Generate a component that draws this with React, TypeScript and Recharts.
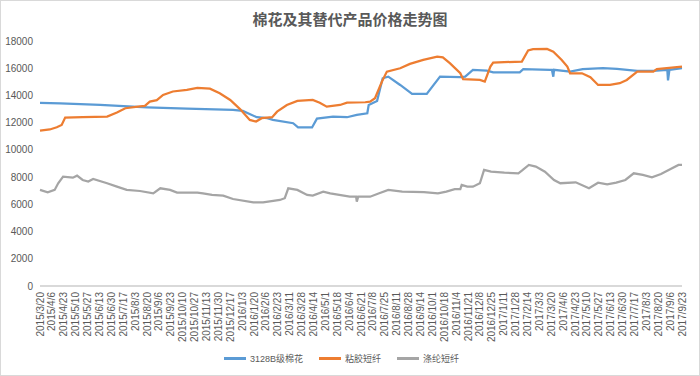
import { LineChart, Line, XAxis, YAxis, Legend } from 'recharts';

const title = '棉花及其替代产品价格走势图';

// x-axis labels, one every 17 days starting 2015/3/20
const dateLabels = [
  '2015/3/20', '2015/4/6', '2015/4/23', '2015/5/10', '2015/5/27', '2015/6/13', '2015/6/30',
  '2015/7/17', '2015/8/3', '2015/8/20', '2015/9/6', '2015/9/23', '2015/10/10', '2015/10/27',
  '2015/11/13', '2015/11/30', '2015/12/17', '2016/1/3', '2016/1/20', '2016/2/6', '2016/2/23',
  '2016/3/11', '2016/3/28', '2016/4/14', '2016/5/1', '2016/5/18', '2016/6/4', '2016/6/21',
  '2016/7/8', '2016/7/25', '2016/8/11', '2016/8/28', '2016/9/14', '2016/10/1', '2016/10/18',
  '2016/11/4', '2016/11/21', '2016/12/8', '2016/12/25', '2017/1/11', '2017/1/28', '2017/2/14',
  '2017/3/3', '2017/3/20', '2017/4/6', '2017/4/23', '2017/5/10', '2017/5/27', '2017/6/13',
  '2017/6/30', '2017/7/17', '2017/8/3', '2017/8/20', '2017/9/6', '2017/9/23',
];
const tickStep = 17;
const yTicks = [0, 2000, 4000, 6000, 8000, 10000, 12000, 14000, 16000, 18000];

const seriesNames = ['3128B级棉花', '粘胶短纤', '涤纶短纤'];
const seriesColors = ['#5B9BD5', '#ED7D31', '#A5A5A5'];

// days since 2015/3/20
const cottonDays = [
  0, 29, 86, 153, 210, 276, 290, 310, 325, 333, 362, 369, 389, 396, 419, 439, 453, 468, 470,
  482, 490, 498, 515, 532, 553, 572, 601, 608, 619, 639, 648, 686, 691, 729, 732, 734, 735,
  758, 776, 805, 825, 854, 877, 897, 898, 900, 918,
];
const cottonPrices = [
  13450, 13420, 13300, 13130, 13030, 12940, 12860, 12400, 12330, 12200, 11960, 11660, 11650,
  12300, 12450, 12400, 12570, 12690, 13300, 13600, 15260, 15380, 14770, 14110, 14110, 15380,
  15340, 15380, 15880, 15820, 15700, 15700, 15930, 15880, 15880, 15380, 15880, 15750, 15930,
  16000, 15950, 15800, 15800, 15880, 15100, 15880, 16000,
];

const viscoseDays = [
  0, 14, 24, 31, 36, 61, 96, 110, 122, 143, 150, 157, 167, 176, 190, 210, 225, 243, 257, 272,
  286, 300, 309, 317, 332, 339, 353, 368, 390, 400, 410, 429, 439, 465, 472, 479, 489, 496,
  515, 529, 548, 568, 576, 586, 601, 605, 629, 636, 644, 648, 689, 698, 705, 725, 734, 746,
  754, 758, 775, 787, 798, 815, 829, 839, 854, 877, 882, 918,
];
const viscosePrices = [
  11420, 11500, 11660, 11830, 12370, 12400, 12450, 12740, 13060, 13200, 13230, 13550, 13650,
  14040, 14290, 14410, 14560, 14500, 14160, 13670, 13000, 12200, 12080, 12330, 12400, 12810,
  13300, 13600, 13670, 13470, 13180, 13300, 13470, 13500, 13550, 13790, 15020, 15750, 16000,
  16320, 16610, 16850, 16800, 16370, 15630, 15190, 15140, 15020, 16120, 16420, 16490, 17300,
  17400, 17420, 17220, 16610, 16120, 15630, 15630, 15340, 14770, 14770, 14900, 15140, 15750,
  15750, 15930, 16120,
];

const polyesterDays = [
  0, 11, 21, 26, 33, 47, 53, 61, 69, 76, 96, 110, 124, 143, 162, 172, 186, 196, 225, 233, 246,
  262, 276, 305, 319, 343, 350, 355, 368, 382, 390, 405, 415, 443, 452, 453, 455, 472, 485,
  498, 518, 549, 569, 581, 593, 601, 603, 611, 619, 629, 635, 645, 664, 684, 689, 699, 709,
  722, 735, 744, 766, 785, 798, 811, 824, 837, 849, 862, 875, 888, 901, 913, 918,
];
const polyesterPrices = [
  7060, 6890, 7060, 7550, 8040, 7960, 8110, 7790, 7670, 7860, 7550, 7300, 7060, 6980, 6810,
  7180, 7060, 6860, 6860, 6810, 6690, 6640, 6390, 6150, 6150, 6320, 6450, 7180, 7060, 6690,
  6640, 6930, 6810, 6560, 6560, 6200, 6560, 6560, 6810, 7060, 6930, 6890, 6810, 6930, 7110,
  7110, 7420, 7300, 7300, 7550, 8530, 8400, 8330, 8280, 8470, 8890, 8770, 8400, 7790, 7550,
  7620, 7180, 7590, 7470, 7590, 7790, 8280, 8160, 7990, 8230, 8580, 8890, 8890,
];

const toPoints = (days: number[], values: number[]) =>
  days.map((day, i) => ({ day, value: values[i] }));

const series = [
  toPoints(cottonDays, cottonPrices),
  toPoints(viscoseDays, viscosePrices),
  toPoints(polyesterDays, polyesterPrices),
];

const xTicks = dateLabels.map((_, i) => i * tickStep);
const FONT = '"Liberation Sans", "Noto Sans CJK SC", sans-serif';

function DateTick({ x, y, payload }: any) {
  const label = dateLabels[Math.round(payload.value / tickStep)];
  return (
    <text
      transform={`translate(${x},${y + 6}) rotate(-90)`}
      textAnchor="end"
      dominantBaseline="central"
      fontSize={10}
      fill="#595959"
      fontFamily={FONT}
    >
      {label}
    </text>
  );
}

function LegendBox() {
  return (
    <div style={{ display: 'flex', justifyContent: 'center', height: 20, alignItems: 'center', fontFamily: FONT }}>
      {seriesNames.map((n, i) => (
        <div key={n} style={{ display: 'flex', alignItems: 'center', marginRight: i < 2 ? 16 : 0 }}>
          <span style={{ display: 'inline-block', width: 22, height: 3, background: seriesColors[i], marginRight: 4 }} />
          <span style={{ fontSize: 9, color: '#595959' }}>{n}</span>
        </div>
      ))}
    </div>
  );
}

export default function App() {
  return (
    <div
      style={{
        position: 'absolute',
        left: 0,
        top: 0,
        width: 700,
        height: 376,
        boxSizing: 'border-box',
        border: '1px solid #d9d9d9',
        background: '#fff',
      }}
    >
      <div
        style={{
          position: 'absolute',
          top: 7,
          width: '100%',
          textAlign: 'center',
          fontSize: 15,
          fontWeight: 600,
          color: '#595959',
          fontFamily: FONT,
        }}
      >
        {title}
      </div>
      <LineChart width={698} height={374} margin={{ top: 40, right: 17, bottom: 7, left: 0 }}>
        <XAxis
          type="number"
          dataKey="day"
          domain={[0, 918]}
          ticks={xTicks}
          interval={0}
          tick={<DateTick />}
          tickLine={false}
          tickSize={0}
          tickMargin={0}
          height={62}
          axisLine={{ stroke: '#d9d9d9', strokeWidth: 2 }}
          allowDuplicatedCategory={false}
        />
        <YAxis
          type="number"
          domain={[0, 18000]}
          ticks={yTicks}
          interval={0}
          width={39}
          axisLine={false}
          tickLine={false}
          tickSize={0}
          tickMargin={7}
          tick={{ fontSize: 10, fill: '#595959', fontFamily: FONT }}
        />
        <Legend verticalAlign="bottom" content={<LegendBox />} />
        {series.map((data, i) => (
          <Line
            key={seriesNames[i]}
            data={data}
            dataKey="value"
            name={seriesNames[i]}
            stroke={seriesColors[i]}
            strokeWidth={2.25}
            dot={false}
            type="linear"
            isAnimationActive={false}
          />
        ))}
      </LineChart>
    </div>
  );
}
